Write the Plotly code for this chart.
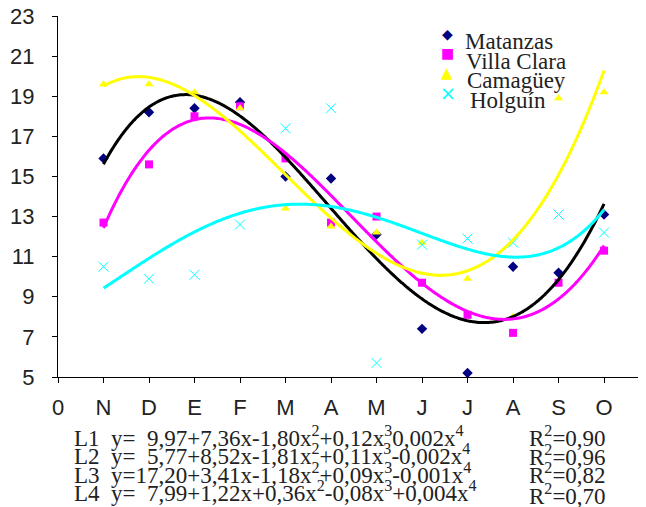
import numpy as np
import plotly.graph_objects as go

# ---- data ----
months = ["N", "D", "E", "F", "M", "A", "M", "J", "J", "A", "S", "O"]
x_pos = list(range(1, 13))
tick_vals = list(range(0, 13))
tick_text = ["0"] + months
y_ticks = [5, 7, 9, 11, 13, 15, 17, 19, 21, 23]

matanzas = [15.9, 18.2, 18.4, 18.7, 15.0, 14.9, 12.1, 7.4, 5.2, 10.5, 10.2, 13.1]
villa_clara = [12.7, 15.6, 18.0, 18.5, 15.9, 12.7, 13.0, 9.7, 8.1, 7.2, 9.7, 11.3]
camaguey = [19.6, 19.6, 19.2, 18.4, 13.4, 12.5, 12.2, 11.7, 9.9, 8.0, 18.9, 19.2]
holguin = [10.5, 9.9, 10.1, 12.6, 17.4, 18.4, 5.7, 11.6, 11.9, 11.7, 13.1, 12.2]

series_names = ["Matanzas", "Villa Clara", "Camagüey", "Holguín"]
equations = [
    "L1\u00a0\u00a0y=\u00a0\u00a09,97+7,36x-1,80x<sup>2</sup>+0,12x<sup>3</sup>0,002x<sup>4</sup>",
    "L2\u00a0\u00a0y=\u00a0\u00a05,77+8,52x-1,81x<sup>2</sup>+0,11x<sup>3</sup>-0,002x<sup>4</sup>",
    "L3\u00a0\u00a0y=17,20+3,41x-1,18x<sup>2</sup>+0,09x<sup>3</sup>-0,001x<sup>4</sup>",
    "L4\u00a0\u00a0y=\u00a0\u00a07,99+1,22x+0,36x<sup>2</sup>-0,08x<sup>3</sup>+0,004x<sup>4</sup>",
]
r2_labels = ["R<sup>2</sup>=0,90", "R<sup>2</sup>=0,96", "R<sup>2</sup>=0,82", "R<sup>2</sup>=0,70"]

# ---- styling ----
# the page body adds an 8 px offset, so the figure is 8 px smaller and shifted
OFF = 8
W, H = 646 - OFF, 507 - OFF
ML, MR, MT, MB = 58 - OFF, 1, 16 - OFF, 130
PW, PH = W - ML - MR, H - MT - MB
line_colors = ["#000000", "#FF00FF", "#FFFF00", "#00FFFF"]
marker_colors = ["#000080", "#FF00FF", "#FFFF00", "#00FFFF"]
symbols = ["diamond", "square", "triangle-up", "x-thin-open"]
legend_glyphs = ["◆", "■", "▲", "×"]
sans = "Liberation Sans, Arial, sans-serif"
serif = "Liberation Serif, Times New Roman, serif"


def px(xp):
    # xp: pixel in window coordinates
    return (xp - OFF - ML) / PW


def py(yp):
    return (H - MB - (yp - OFF)) / PH


fig = go.Figure()
data = [matanzas, villa_clara, camaguey, holguin]

for i, ys in enumerate(data):
    mk = dict(color=marker_colors[i], symbol=symbols[i], size=8)
    if symbols[i] == "x-thin-open":
        mk = dict(color=marker_colors[i], symbol=symbols[i], size=10,
                  line=dict(color=marker_colors[i], width=1))
    fig.add_trace(go.Scatter(x=x_pos, y=ys, mode="markers", name=series_names[i],
                             marker=mk, showlegend=False, cliponaxis=False))

xs_fine = np.linspace(1, 12, 300)
for i, ys in enumerate(data):
    coef = np.polyfit(x_pos, ys, 4)
    fig.add_trace(go.Scatter(x=xs_fine, y=np.polyval(coef, xs_fine), mode="lines",
                             line=dict(color=line_colors[i], width=3, shape="spline"),
                             showlegend=False, hoverinfo="skip"))

annotations = []
# legend (manual, to match tight row spacing)
glyph_pos = [(447, 34), (447, 53), (447, 73), (448, 93)]
glyph_sizes = [14, 14, 15, 19]
text_pos = [(464, 42), (465, 61), (466, 81), (469, 100)]
for i in range(4):
    annotations.append(dict(text=legend_glyphs[i], x=px(glyph_pos[i][0]), y=py(glyph_pos[i][1]),
                            xref="paper", yref="paper", showarrow=False,
                            font=dict(family="DejaVu Sans", size=glyph_sizes[i], color=marker_colors[i]),
                            xanchor="center", yanchor="middle", borderpad=0))
    annotations.append(dict(text=series_names[i], x=px(text_pos[i][0]), y=py(text_pos[i][1]),
                            xref="paper", yref="paper", showarrow=False,
                            font=dict(family=serif, size=23, color="#222222"),
                            xanchor="left", yanchor="middle", borderpad=0))

eq_y = [436, 454, 473, 491]
r2_y = [436, 455, 474, 494]
for i in range(4):
    annotations.append(dict(text=equations[i], x=px(73), y=py(eq_y[i]), xref="paper", yref="paper",
                            showarrow=False, font=dict(family=serif, size=23, color="#222222"),
                            xanchor="left", yanchor="middle", borderpad=0))
    annotations.append(dict(text=r2_labels[i], x=px(528), y=py(r2_y[i]), xref="paper", yref="paper",
                            showarrow=False, font=dict(family=serif, size=23, color="#222222"),
                            xanchor="left", yanchor="middle", borderpad=0))

fig.update_layout(
    width=W, height=H,
    margin=dict(l=ML, r=MR, t=MT, b=MB, autoexpand=False),
    paper_bgcolor="white", plot_bgcolor="white",
    showlegend=False,
    annotations=annotations,
    xaxis=dict(range=[0, 12.9], tickvals=tick_vals, ticktext=tick_text, automargin=False,
               showgrid=False, zeroline=False, showline=True, linecolor="black", linewidth=1,
               ticks="outside", ticklen=5, tickcolor="black", ticklabeloverflow="allow",
               tickfont=dict(family=sans, size=22, color="#222222"), ticklabelstandoff=6),
    yaxis=dict(range=[5, 23], tickvals=y_ticks, automargin=False,
               showgrid=False, zeroline=False, showline=True, linecolor="black", linewidth=1,
               ticks="outside", ticklen=5, tickcolor="black", ticklabeloverflow="allow",
               tickfont=dict(family=sans, size=22, color="#222222"), ticklabelstandoff=13),
)

fig.write_html("out.html")
